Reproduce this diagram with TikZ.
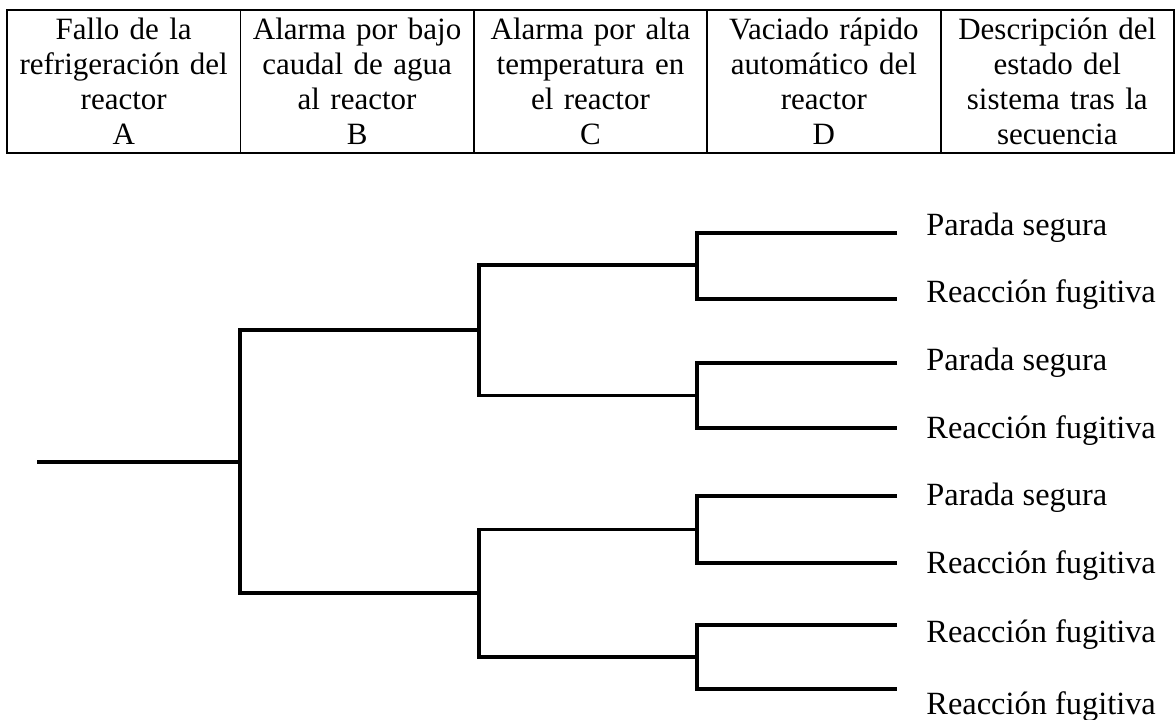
\documentclass[tikz,border=0pt]{standalone}
\usepackage{fontspec}
\setmainfont{Liberation Serif}
\usetikzlibrary{positioning}

\tikzset{
  head/.style={draw, line width=0.9pt, minimum height=71.5pt, text width=112.7pt,
    inner xsep=2pt, inner ysep=0pt, outer sep=0pt, align=center,
    font=\fontsize{15.5}{17.5}\selectfont},
  branch/.style={line width=1.7pt},
  result/.style={anchor=base west, inner sep=0pt, font=\fontsize{16.2}{18}\selectfont}
}

\begin{document}
\begin{tikzpicture}[x=0.5pt,y=-0.5pt]
\useasboundingbox (0,0) rectangle (1176,719);
% cabecera
\node[head, anchor=north west] (fallo) at (7,10) {Fallo de la\\refrigeración del\\reactor\\A};
\node[head, right=0pt of fallo] (bajo) {Alarma por bajo\\caudal de agua\\al reactor\\B};
\node[head, right=0pt of bajo] (alta) {Alarma por alta\\temperatura en\\el reactor\\C};
\node[head, right=0pt of alta] (vaciado) {Vaciado rápido\\automático del\\reactor\\D};
\node[head, right=0pt of vaciado] (estado) {Descripción del\\estado del\\sistema tras la\\secuencia};
% puntos del arbol
\coordinate (ini) at (37,462);
\coordinate (nA) at (240,462);
\coordinate (nB1) at (479,330);
\coordinate (nB2) at (479,593);
\coordinate (nC1) at (697,265);
\coordinate (nC2) at (697,395.5);
\coordinate (nC3) at (697,529.5);
\coordinate (nC4) at (697,657);
\coordinate (e1) at (897,233);
\coordinate (e2) at (897,299);
\coordinate (e3) at (897,363);
\coordinate (e4) at (897,428);
\coordinate (e5) at (897,496);
\coordinate (e6) at (897,563);
\coordinate (e7) at (897,625);
\coordinate (e8) at (897,689);
% resultados
\node[result] (s1) at (926,235) {Parada segura};
\node[result] (s2) at (926,302) {Reacción fugitiva};
\node[result] (s3) at (926,370) {Parada segura};
\node[result] (s4) at (926,438) {Reacción fugitiva};
\node[result] (s5) at (926,505) {Parada segura};
\node[result] (s6) at (926,573) {Reacción fugitiva};
\node[result] (s7) at (926,642) {Reacción fugitiva};
\node[result] (s8) at (926,714) {Reacción fugitiva};
% ramas
\draw[branch] (ini) -- (nA);
\draw[branch] (nB1) -| (nA) |- (nB2);
\draw[branch] (nC1) -| (nB1) |- (nC2);
\draw[branch] (nC3) -| (nB2) |- (nC4);
\draw[branch] (e1) -| (nC1) |- (e2);
\draw[branch] (e3) -| (nC2) |- (e4);
\draw[branch] (e5) -| (nC3) |- (e6);
\draw[branch] (e7) -| (nC4) |- (e8);
\end{tikzpicture}
\end{document}
